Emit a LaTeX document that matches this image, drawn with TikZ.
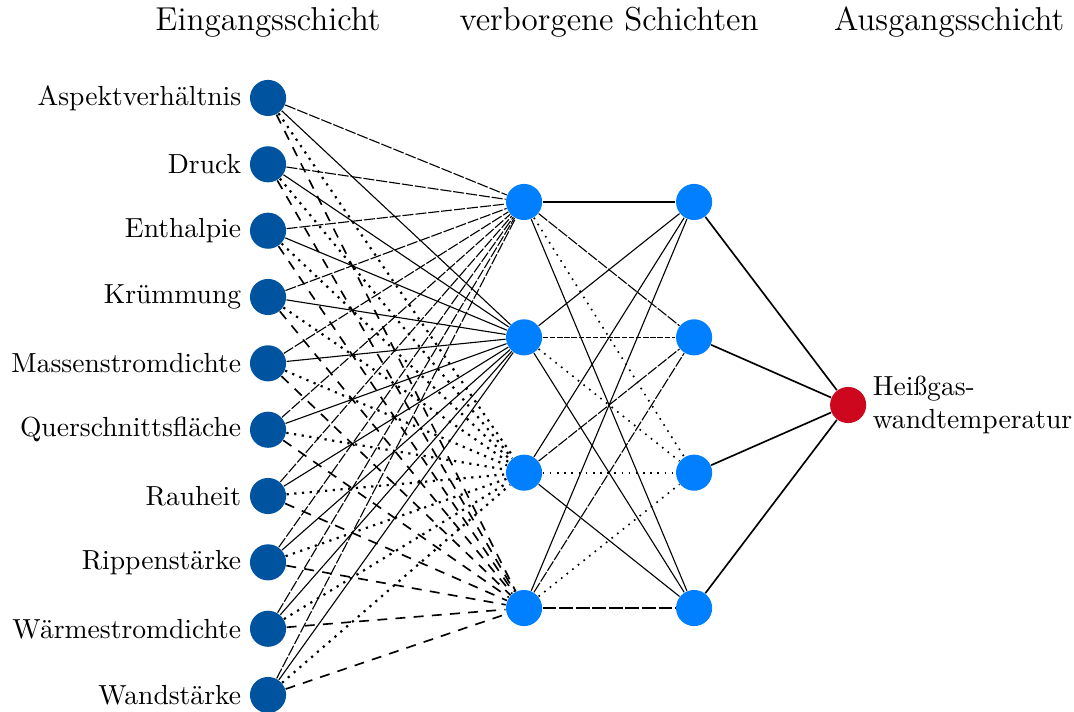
\documentclass[tikz,border=0pt]{standalone}
\usetikzlibrary{positioning}

\definecolor{inblue}{RGB}{0,84,159}
\definecolor{hidblue}{RGB}{0,128,255}
\definecolor{outred}{RGB}{204,7,30}

\begin{document}
\begin{tikzpicture}[draw=black!100]
	\useasboundingbox (0,0) rectangle (13.68,9.057);
	\def \incol{3.414}
	\def \hidone{6.675}
	\def \hidtwo{8.841}
	\def \outcol{10.803}
	\def \headht{8.777}
	\tikzstyle{i-node}=[circle,fill=inblue,inner sep=0pt,minimum size=0.46cm]
	\tikzstyle{h-node}=[circle,fill=hidblue,inner sep=0pt,minimum size=0.46cm]
	\tikzstyle{o-node}=[circle,fill=outred,inner sep=0pt,minimum size=0.46cm]
	\tikzstyle{annot}=[font=\large]
	\tikzstyle{w-a}=[dash pattern=on 4pt off 0.7pt]
	\tikzstyle{w-b}=[]
	\tikzstyle{w-c}=[thick,dotted]
	\tikzstyle{w-d}=[semithick,dash pattern=on 3.6pt off 3pt]
	% labels
	\node[annot] (intier)  at (\incol,\headht)  {Eingangsschicht};
	\node[annot] (hidtier) at (7.758,\headht)   {verborgene Schichten};
	\node[annot] (outtier) at (12.09,\headht)   {Ausgangsschicht};

	% input layer
	\node[i-node] (i0) at (\incol,7.809) {};
	\node[i-node] (i1) at (\incol,6.964) {};
	\node[i-node] (i2) at (\incol,6.118) {};
	\node[i-node] (i3) at (\incol,5.274) {};
	\node[i-node] (i4) at (\incol,4.429) {};
	\node[i-node] (i5) at (\incol,3.583) {};
	\node[i-node] (i6) at (\incol,2.739) {};
	\node[i-node] (i7) at (\incol,1.894) {};
	\node[i-node] (i8) at (\incol,1.048) {};
	\node[i-node] (i9) at (\incol,0.204) {};
	\node[left=0pt of i0,inner sep=2.8pt] (l0) {Aspektverhältnis};
	\node[left=0pt of i1,inner sep=2.8pt] (l1) {Druck};
	\node[left=0pt of i2,inner sep=2.8pt] (l2) {Enthalpie};
	\node[left=0pt of i3,inner sep=2.8pt] (l3) {Krümmung};
	\node[left=0pt of i4,inner sep=2.8pt] (l4) {Massenstromdichte};
	\node[left=0pt of i5,inner sep=2.8pt] (l5) {Querschnittsfläche};
	\node[left=0pt of i6,inner sep=2.8pt] (l6) {Rauheit};
	\node[left=0pt of i7,inner sep=2.8pt] (l7) {Rippenstärke};
	\node[left=0pt of i8,inner sep=2.8pt] (l8) {Wärmestromdichte};
	\node[left=0pt of i9,inner sep=2.8pt] (l9) {Wandstärke};

	% hidden layers
	\node[h-node] (h0) at (\hidone,6.484) {};
	\node[h-node] (h1) at (\hidone,4.760) {};
	\node[h-node] (h2) at (\hidone,3.036) {};
	\node[h-node] (h3) at (\hidone,1.312) {};
	\node[h-node] (g0) at (\hidtwo,6.484) {};
	\node[h-node] (g1) at (\hidtwo,4.760) {};
	\node[h-node] (g2) at (\hidtwo,3.036) {};
	\node[h-node] (g3) at (\hidtwo,1.312) {};

	% output layer
	\node[o-node] (o0) at (\outcol,3.898) {};
	\node[right=0pt of o0,align=left,inner sep=2pt] (ol) {Heißgas-\\wandtemperatur};

	\foreach \i in {0,...,9} {
		\path
			(i\i) edge[w-a] (h0)
			(i\i) edge[w-b] (h1)
			(i\i) edge[w-c] (h2)
			(i\i) edge[w-d] (h3);
	}
	\path
		(h0) edge[semithick] (g0)
		(h0) edge[thin,dash pattern=on 4pt off 0.6pt] (g1)
		(h0) edge[semithick,dotted] (g2)
		(h0) edge (g3)
		%
		(h1) edge (g0)
		(h1) edge[dash pattern=on 2pt off 0.6pt] (g1)
		(h1) edge[semithick,dotted] (g2)
		(h1) edge (g3)
		%
		(h2) edge (g0)
		(h2) edge[thin,dash pattern=on 4pt off 0.6pt] (g1)
		(h2) edge[semithick,dotted] (g2)
		(h2) edge (g3)
		%
		(h3) edge (g0)
		(h3) edge[thin,dash pattern=on 4pt off 0.6pt] (g1)
		(h3) edge[semithick,dotted] (g2)
		(h3) edge[dash pattern=on 5pt off 1pt] (g3);
	\path[semithick]
		(g0) edge (o0)
		(g1) edge (o0)
		(g2) edge (o0)
		(g3) edge (o0);
\end{tikzpicture}
\end{document}
